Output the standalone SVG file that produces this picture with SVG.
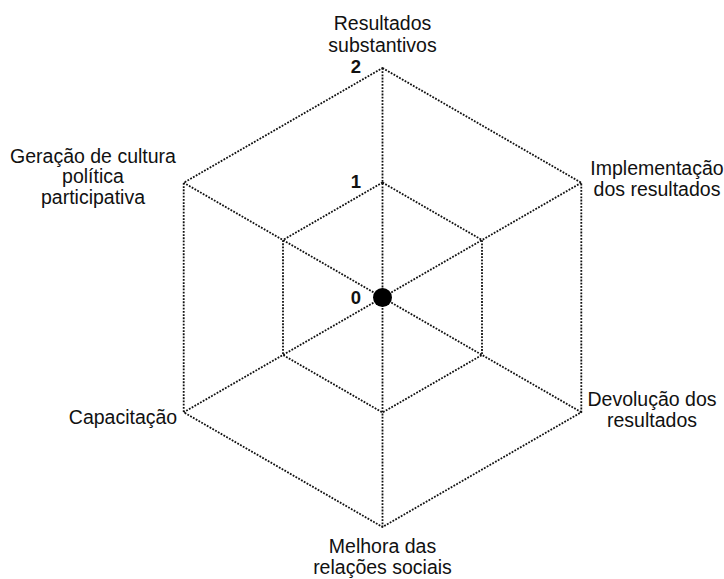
<svg xmlns="http://www.w3.org/2000/svg" width="724" height="579" viewBox="0 0 724 579">
<style>
.g{fill:none;stroke:#111;stroke-width:1.8;stroke-dasharray:1.8 1.4}
.t{font-family:"Liberation Sans",Arial,sans-serif;font-size:19.5px;fill:#111;text-anchor:middle}
.n{font-family:"Liberation Sans",Arial,sans-serif;font-size:18.5px;font-weight:bold;fill:#111;text-anchor:end}
</style>
<rect width="724" height="579" fill="#fff"/>
<g id="grid">
<polygon class="g" points="382.5,68 581.3,182.75 581.3,412.25 382.5,527 183.7,412.25 183.7,182.75"/>
<polygon class="g" points="382.5,182.5 482,240 482,355 382.5,412.5 283,355 283,240"/>
<line class="g" x1="382.5" y1="68" x2="382.5" y2="527"/>
<line class="g" x1="581.3" y1="182.75" x2="183.7" y2="412.25"/>
<line class="g" x1="581.3" y1="412.25" x2="183.7" y2="182.75"/>
</g>
<g id="scale">
<text class="n" x="361" y="72.5">2</text>
<text class="n" x="361" y="188">1</text>
<text class="n" x="361" y="303.5">0</text>
<circle cx="382.5" cy="297.5" r="9.5" fill="#000"/>
</g>
<g id="axis-resultados">
<text class="t" x="382.5" y="30">Resultados</text>
<text class="t" x="382.5" y="52">substantivos</text>
</g>
<g id="axis-implementacao">
<text class="t" x="657" y="175">Implementação</text>
<text class="t" x="657" y="196">dos resultados</text>
</g>
<g id="axis-devolucao">
<text class="t" x="652" y="406">Devolução dos</text>
<text class="t" x="652" y="427">resultados</text>
</g>
<g id="axis-melhora">
<text class="t" x="382.5" y="553">Melhora das</text>
<text class="t" x="382.5" y="574">relações sociais</text>
</g>
<g id="axis-capacitacao">
<text class="t" x="123" y="424">Capacitação</text>
</g>
<g id="axis-geracao">
<text class="t" x="93" y="163">Geração de cultura</text>
<text class="t" x="93" y="183">política</text>
<text class="t" x="93" y="204">participativa</text>
</g>
</svg>
